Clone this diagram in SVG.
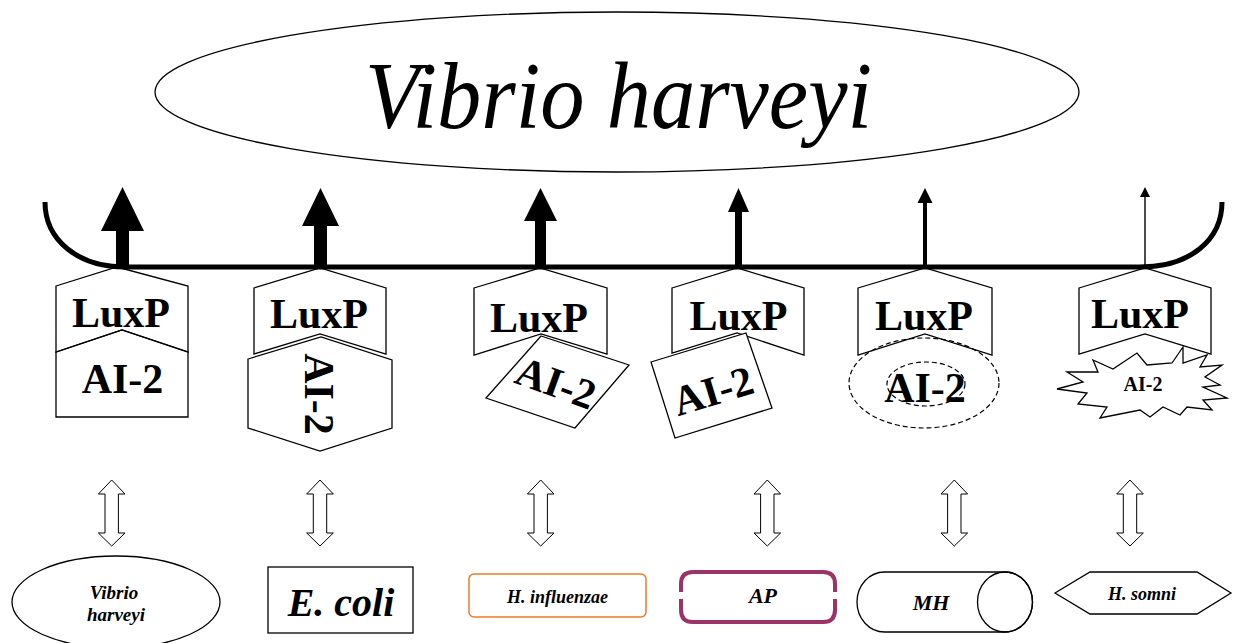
<svg xmlns="http://www.w3.org/2000/svg" width="1242" height="643" viewBox="0 0 1242 643">
<style>
.ln{fill:none;stroke:#000;stroke-width:1.3}
.wf{fill:#fff;stroke:#000;stroke-width:1.3}
.ser{font-family:"Liberation Serif","Times New Roman",Times,"Nimbus Roman","DejaVu Serif",serif}
.big{font-family:"Liberation Serif","Times New Roman",Times,"DejaVu Serif",serif;font-weight:bold;font-size:42px;text-anchor:middle;fill:#000}
.bi{font-family:"Liberation Serif","Times New Roman",Times,"DejaVu Serif",serif;font-weight:bold;font-style:italic;text-anchor:middle;fill:#000}
.up{fill:#000;stroke:none}
</style>
<defs>
<path id="dbl" d="M0,0 L13.3,14 L6.7,14 L6.7,53 L13.3,53 L0,66 L-13.3,53 L-6.7,53 L-6.7,14 L-13.3,14 Z" fill="#fff" stroke="#000" stroke-width="1"/>
</defs>
<rect width="1242" height="643" fill="#fff"/>

<g id="vh-top">
<ellipse cx="617" cy="92" rx="462" ry="80" class="wf"/>
<text class="ser" x="365" y="128" font-style="italic" font-size="96" textLength="507" lengthAdjust="spacingAndGlyphs">Vibrio harveyi</text>
</g>

<g id="membrane">
<path d="M45,202 C45,240 78,267 125,267 L1140,267 C1190,267 1222,240 1222,202" fill="none" stroke="#000" stroke-width="5"/>
</g>

<g id="signals">
<polygon class="up" points="116,267 116,231 101,231 122.5,187 144,231 129,231 129,267"/>
<polygon class="up" points="314,267 314,226 302,226 320.5,188 339,226 327,226 327,267"/>
<polygon class="up" points="535,267 535,221 524,221 540.5,188 557,221 546,221 546,267"/>
<polygon class="up" points="735,267 735,212 728,212 738.5,188 749,212 742,212 742,267"/>
<polygon class="up" points="923,267 923,203 917.5,203 925,188 932.5,203 927,203 927,267"/>
<polygon class="up" points="1144.3,267 1144.3,197 1140,197 1145,187 1150,197 1145.7,197 1145.7,267"/>
</g>

<g id="col1">
<polygon class="ln" points="56,286 117,267 188,286 188,352 122,330 56,352"/>
<polygon class="ln" points="56,352 122,330 188,352 188,417 56,417"/>
<text class="big" x="121" y="327">LuxP</text>
<text class="big" x="122.5" y="393">AI-2</text>
</g>

<g id="col2">
<polygon class="ln" points="254,288 320,268 386,288 386,354 320,334 254,354"/>
<polygon class="ln" points="248,359 321,337 392,360 392,428 320,451 248,428"/>
<text class="big" transform="translate(319,394) rotate(90)" x="0" y="14.5">AI-2</text>
<text class="big" x="319" y="328">LuxP</text>
</g>

<g id="col3">
<polygon class="ln" points="474,288 540,268 607,288 607,354 541,334 474,355"/>
<polygon class="ln" points="541,336 629,365 575,428 486,398"/>
<text class="big" x="539" y="332">LuxP</text>
<text class="big" transform="translate(556,383) rotate(20)" x="0" y="14">AI-2</text>
</g>

<g id="col4">
<polygon class="ln" points="672,288 737,268 804,288 804,355 737,333 672,353"/>
<text class="big" x="738.5" y="330">LuxP</text>
<polygon class="wf" points="651,362 746,333 772,408 675,438"/>
<text class="big" transform="translate(713,391) rotate(-17)" x="0" y="14">AI-2</text>
</g>

<g id="col5">
<polygon class="ln" points="858,288 925,268 992,288 992,355 925,334 858,355"/>
<text class="big" x="924" y="330">LuxP</text>
<ellipse cx="924" cy="383" rx="75" ry="45" fill="none" stroke="#000" stroke-width="1.2" stroke-dasharray="5,3"/>
<ellipse cx="926" cy="384" rx="39" ry="22" fill="none" stroke="#000" stroke-width="1.2" stroke-dasharray="5,3"/>
<text class="big" x="925" y="402">AI-2</text>
</g>

<g id="col6">
<polygon class="ln" points="1079,288 1145,268 1211,288 1211,354 1145,334 1079,354"/>
<text class="big" x="1140" y="328">LuxP</text>
<polygon class="ln" points="1093,360 1113,369 1137,353 1147,365 1172,363 1183,347 1183,363 1207,355 1200,367 1222,365 1205,377 1220,385 1203,387 1227,398 1203,400 1212,410 1187,407 1180,415 1163,407 1150,417 1140,410 1100,418 1107,407 1078,404 1087,393 1057,389 1083,382 1067,372 1098,372"/>
<text class="big" x="1143" y="391" style="font-size:20px">AI-2</text>
</g>

<g id="connectors">
<use href="#dbl" x="111.7" y="480"/>
<use href="#dbl" x="320" y="480"/>
<use href="#dbl" x="540.7" y="480"/>
<use href="#dbl" x="767.3" y="480"/>
<use href="#dbl" x="954.3" y="480"/>
<use href="#dbl" x="1130" y="480"/>
</g>

<g id="b-vibrio">
<ellipse cx="116" cy="602" rx="104" ry="46" class="ln"/>
<text class="bi" x="114" y="599" font-size="19">Vibrio</text>
<text class="bi" x="116" y="621" font-size="19">harveyi</text>
</g>

<g id="b-ecoli">
<rect x="268" y="567" width="145" height="66" class="ln"/>
<text class="bi" x="341" y="616" font-size="40">E. coli</text>
</g>

<g id="b-hinf">
<rect x="469" y="574" width="177" height="43" rx="5" fill="none" stroke="#F07A2A" stroke-width="1.5"/>
<text class="bi" x="557.5" y="603" font-size="18">H. influenzae</text>
</g>

<g id="b-ap">
<path d="M681,592 L681,584 Q681,572 693,572 L823,572 Q835,572 835,584 L835,592" fill="none" stroke="#9B3366" stroke-width="4"/>
<path d="M681,599 L681,610 Q681,622 693,622 L823,622 Q835,622 835,610 L835,599" fill="none" stroke="#9B3366" stroke-width="4"/>
<text class="bi" x="763" y="603" font-size="22">AP</text>
</g>

<g id="b-mh">
<path d="M884.5,572 L1005,572 A27.5,30 0 0 1 1005,632 L884.5,632 A27.5,30 0 0 1 884.5,572 Z" class="ln"/>
<ellipse cx="1005" cy="602" rx="27.5" ry="30" class="ln"/>
<text class="bi" x="931" y="610" font-size="22">MH</text>
</g>

<g id="b-hsomni">
<polygon class="ln" points="1055,593 1090,572 1197,572 1231,593 1197,614 1090,614"/>
<text class="bi" x="1142" y="600" font-size="18">H. somni</text>
</g>
</svg>
